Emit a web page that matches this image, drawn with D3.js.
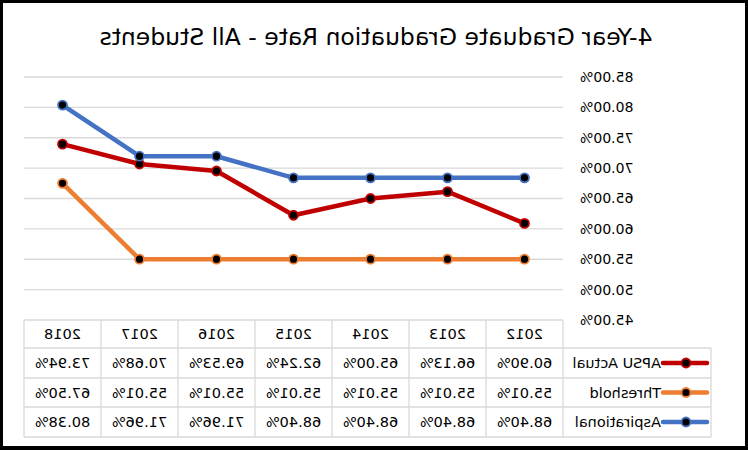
<!DOCTYPE html>
<html><head><meta charset="utf-8">
<script src="https://cdn.jsdelivr.net/npm/d3@7"></script>
<style>
html,body{margin:0;padding:0;background:#000;}
svg{display:block;transform:scaleX(-1);}
text{font-family:"DejaVu Sans",sans-serif;fill:#000;}
</style></head>
<body>
<svg id="chart" width="748" height="450"></svg>
<script>
const years = ["2012","2013","2014","2015","2016","2017","2018"];
const seriesNames = ["APSU Actual","Threshold","Aspirational"];
const apsuActual = [60.90, 66.13, 65.00, 62.24, 69.53, 70.68, 73.94];
const threshold = [55.01, 55.01, 55.01, 55.01, 55.01, 55.01, 67.50];
const aspirational = [68.40, 68.40, 68.40, 68.40, 71.96, 71.96, 80.38];
const yTicks = [45, 50, 55, 60, 65, 70, 75, 80, 85];
const colors = ["#C00000", "#ED7D31", "#4472C4"];
const title = "4-Year Graduate Graduation Rate - All Students";

const series = [apsuActual, threshold, aspirational];
const svg = d3.select("#chart");
const W = 748, H = 450;

svg.append("rect").attr("x",0).attr("y",0).attr("width",W).attr("height",H).attr("fill","#000");
svg.append("rect").attr("x",3).attr("y",3).attr("width",W-6).attr("height",H-7).attr("fill","#fff");

svg.append("text").attr("x",372).attr("y",45).attr("text-anchor","middle")
  .style("font-size","23.5px").text(title);

const x = d3.scaleBand().domain(years).range([185,724]);
const y = d3.scaleLinear().domain([45,85]).range([320,77]);

// gridlines
svg.append("g").selectAll("line").data(yTicks.filter(t=>t>45)).join("line")
  .attr("x1",185).attr("x2",724).attr("y1",d=>y(d)).attr("y2",d=>y(d))
  .attr("stroke","#d9d9d9").attr("stroke-width",1.3);

// y axis labels
const yAxis = d3.axisLeft(y).tickValues(yTicks).tickFormat(d=>d.toFixed(2)+"%").tickSize(0).tickPadding(0);
const ya = svg.append("g").attr("transform","translate(168,0)").call(yAxis);
ya.select(".domain").remove();
ya.selectAll("text").style("font-size","14px").style("font-family","DejaVu Sans, sans-serif").attr("fill","#000");

// lines
const line = d3.line().x((d,i)=>x(years[i])+x.bandwidth()/2).y(d=>y(d));
series.forEach((s,k)=>{
  svg.append("path").datum(s).attr("d",line).attr("fill","none")
    .attr("stroke",colors[k]).attr("stroke-width",4.5).attr("stroke-linejoin","round");
});
series.forEach((s,k)=>{
  svg.append("g").selectAll("circle").data(s).join("circle")
    .attr("cx",(d,i)=>x(years[i])+x.bandwidth()/2).attr("cy",d=>y(d)).attr("r",4.5)
    .attr("fill","#000").attr("stroke",colors[k]).attr("stroke-width",1.8);
});

// data table
const rowY = [320, 348, 378, 407, 437];
const tbl = svg.append("g");
const bc = "#d9d9d9";
tbl.append("line").attr("x1",185).attr("x2",724).attr("y1",rowY[0]).attr("y2",rowY[0]).attr("stroke",bc).attr("stroke-width",1.3);
rowY.slice(1).forEach(yy=>{
  tbl.append("line").attr("x1",37).attr("x2",724).attr("y1",yy).attr("y2",yy).attr("stroke",bc).attr("stroke-width",1.3);
});
years.forEach((yr,i)=>{
  tbl.append("line").attr("x1",x(yr)).attr("x2",x(yr)).attr("y1",rowY[0]).attr("y2",rowY[4]).attr("stroke",bc).attr("stroke-width",1.3);
});
tbl.append("line").attr("x1",724).attr("x2",724).attr("y1",rowY[0]).attr("y2",rowY[4]).attr("stroke",bc).attr("stroke-width",1.3);
tbl.append("line").attr("x1",37).attr("x2",37).attr("y1",rowY[1]).attr("y2",rowY[4]).attr("stroke",bc).attr("stroke-width",1.3);

tbl.selectAll("text.hdr").data(years).join("text").attr("class","hdr")
  .attr("x",d=>x(d)+x.bandwidth()/2).attr("y",(rowY[0]+rowY[1])/2)
  .attr("text-anchor","middle").attr("dominant-baseline","central")
  .style("font-size","14.5px").text(d=>d);

series.forEach((s,k)=>{
  const cy = (rowY[k+1]+rowY[k+2])/2;
  tbl.append("g").selectAll("text").data(s).join("text")
    .attr("x",(d,i)=>x(years[i])+x.bandwidth()/2).attr("y",cy)
    .attr("text-anchor","middle").attr("dominant-baseline","central")
    .style("font-size","14.5px").text(d=>d.toFixed(2)+"%");
  tbl.append("line").attr("x1",41).attr("x2",85).attr("y1",cy).attr("y2",cy)
    .attr("stroke",colors[k]).attr("stroke-width",4.5).attr("stroke-linecap","round");
  tbl.append("circle").attr("cx",62).attr("cy",cy).attr("r",4.5)
    .attr("fill","#000").attr("stroke",colors[k]).attr("stroke-width",1.8);
  tbl.append("text").attr("x",87).attr("y",cy).attr("dominant-baseline","central")
    .style("font-size","14.5px").text(seriesNames[k]);
});
</script>
</body></html>
